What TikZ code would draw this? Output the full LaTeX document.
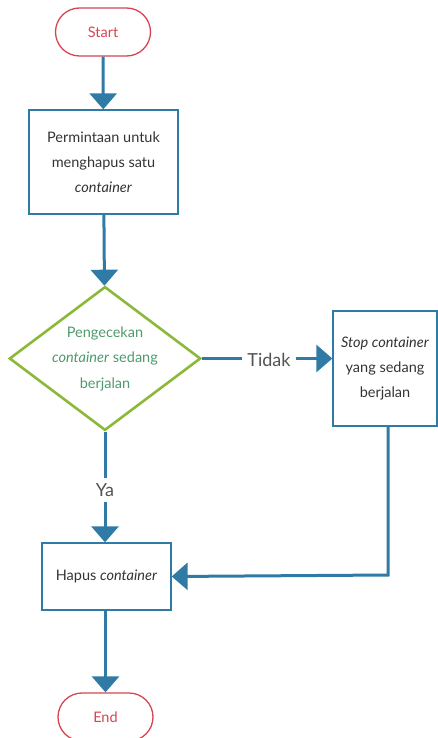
\documentclass[tikz,border=0pt]{standalone}
\usepackage{fontspec}
\setmainfont{Lato}
\usetikzlibrary{shapes.geometric,arrows.meta}
\definecolor{flowblue}{HTML}{2F7BA5}
\definecolor{termred}{HTML}{D64550}
\definecolor{decgreen}{HTML}{8CB83A}
\definecolor{dectext}{HTML}{4E9A6C}
\definecolor{txtgray}{HTML}{333333}
\begin{document}
\begin{tikzpicture}[x=1pt,y=-1pt,
    terminal/.style={draw=termred,line width=1.3pt,rounded corners=24pt,
      minimum width=95pt,minimum height=48pt,text=termred,font=\fontsize{14.5}{25}\selectfont},
    process/.style={draw=flowblue,line width=1.3pt,align=center,text=txtgray,
      font=\fontsize{14.5}{25}\selectfont},
    decision/.style={draw=decgreen,line width=2.6pt,diamond,aspect=1.33,
      minimum width=190pt,minimum height=143pt,inner sep=0pt,align=center,
      text=dectext,font=\fontsize{14.5}{25.5}\selectfont},
    branch/.style={text=txtgray!85,inner sep=5pt,font=\fontsize{18}{20}\selectfont},
    flow/.style={draw=flowblue,line width=3pt,
      -{Triangle[width=27pt,length=16pt]}},
    plain/.style={draw=flowblue,line width=3pt}]
  \useasboundingbox (0,0) rectangle (437,738);
  \node[terminal] (start) at (103,32) {Start};
  \node[process,minimum width=149pt,minimum height=104pt] (request) at (103.5,162)
    {Permintaan untuk\\menghapus satu\\\textit{container}};
  \node[decision] (check) at (105,358.5)
    {Pengecekan\\\textit{container} sedang\\berjalan};
  \node[branch] (no) at (269,360) {Tidak};
  \node[process,minimum width=104pt,minimum height=115pt] (stop) at (385,368.5)
    {\textit{Stop container}\\yang sedang\\berjalan};
  \node[branch] (yes) at (105,490) {Ya};
  \node[process,minimum width=129pt,minimum height=67pt] (remove) at (106.5,576.5)
    {Hapus \textit{container}};
  \node[terminal] (end) at (105.5,717) {End};
  \coordinate (corner) at (388,575);
  \draw[flow] (start) -- (request);
  \draw[flow] (request) -- (check);
  \draw[plain] (check.east) -- (check.east -| no.west);
  \draw[flow] (check.east -| no.east) -- (check.east -| stop.west);
  \draw[plain] (check.south) -- (yes.north);
  \draw[flow] (yes.south) -- (remove.north -| yes.south);
  \draw[flow] (stop.south -| corner) -- (corner) -- (remove.east);
  \draw[flow] (remove.south -| end.north) -- (end.north);
\end{tikzpicture}
\end{document}
